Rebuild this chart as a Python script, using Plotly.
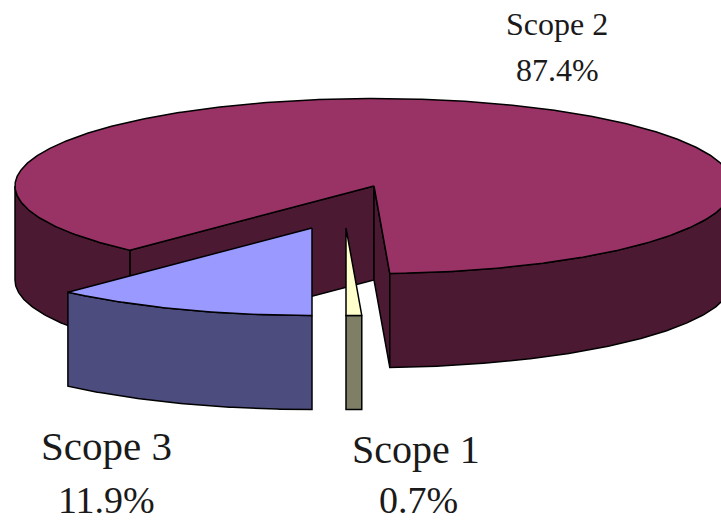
import numpy as np
import plotly.graph_objects as go

# Share of emissions by scope, in percent, in clockwise order around the pie
scopes = ["Scope 3", "Scope 2", "Scope 1"]
shares = [11.9, 87.4, 0.7]

# Drawing style per scope: top face, side face
top_colors = {"Scope 1": "#FFFFCC", "Scope 2": "#993366", "Scope 3": "#9999FF"}
side_colors = {"Scope 1": "#7F7F66", "Scope 2": "#4C1933", "Scope 3": "#4C4C7F"}

# Apex of each slice on the canvas (the pie is pulled apart)
apex = {"Scope 1": (346, 228), "Scope 2": (374, 186), "Scope 3": (312, 228)}

# Labels: (x, y of name), name size, (x, y of percentage), percentage size
label_pos = {
    "Scope 1": ((416, 449), 40, (418, 500), 38),
    "Scope 2": ((557, 24), 32, (557, 70), 32),
    "Scope 3": ((106, 446), 41, (106, 500), 38),
}

WIDTH, HEIGHT = 721, 522
RX, RY, DEPTH = 359, 87.5, 94
START_DEG = 90.0


def rim(center, deg):
    """Points on the tilted rim of the pie for angles given in degrees."""
    t = np.radians(deg)
    return center[0] + RX * np.cos(t), center[1] + RY * np.sin(t)


def arc_angles(a, b):
    return np.linspace(a, b, max(int(abs(b - a) * 2), 2))


def polygon(xs, ys, color, name):
    return go.Scatter(
        x=np.append(xs, xs[0]),
        y=np.append(ys, ys[0]),
        mode="lines",
        fill="toself",
        fillcolor=color,
        line=dict(color="#000000", width=1.5),
        hoverinfo="skip",
        name=name,
        showlegend=False,
    )


# Angular extent of every slice, derived from the shares
spans = {}
angle = START_DEG
for scope, share in zip(scopes, shares):
    spans[scope] = (angle, angle + share * 3.6)
    angle += share * 3.6


def slice_traces(scope):
    a, b = spans[scope]
    c = apex[scope]
    traces = []

    # Cut faces that turn towards the viewer
    for edge, normal in ((a, a - 90), (b, b + 90)):
        if np.sin(np.radians(normal)) > 1e-6:
            rx_pt, ry_pt = rim(c, edge)
            xs = np.array([c[0], rx_pt, rx_pt, c[0]])
            ys = np.array([c[1], ry_pt, ry_pt + DEPTH, c[1] + DEPTH])
            traces.append(polygon(xs, ys, side_colors[scope], scope))

    # Outer wall: only the part of the rim on the near half of the ellipse
    for k in range(0, 3):
        lo, hi = max(a, 360 * k), min(b, 360 * k + 180)
        if hi > lo:
            xs, ys = rim(c, arc_angles(lo, hi))
            traces.append(
                polygon(
                    np.concatenate([xs, xs[::-1]]),
                    np.concatenate([ys, ys[::-1] + DEPTH]),
                    side_colors[scope],
                    scope,
                )
            )

    # Top face
    xs, ys = rim(c, arc_angles(a, b))
    traces.append(
        polygon(np.concatenate([[c[0]], xs]), np.concatenate([[c[1]], ys]), top_colors[scope], scope)
    )
    return traces


fig = go.Figure()
for scope in ("Scope 2", "Scope 3", "Scope 1"):
    fig.add_traces(slice_traces(scope))

for scope, share in zip(scopes, shares):
    name_xy, name_size, value_xy, value_size = label_pos[scope]
    for (x, y), text, size in ((name_xy, scope, name_size), (value_xy, f"{share}%", value_size)):
        fig.add_annotation(
            x=x, y=y, text=text, showarrow=False,
            xanchor="center", yanchor="middle",
            font=dict(family="Liberation Serif", size=size, color="#1a1a1a"),
        )

fig.update_layout(
    width=WIDTH,
    height=HEIGHT,
    margin=dict(l=0, r=0, t=0, b=0),
    paper_bgcolor="white",
    plot_bgcolor="white",
    showlegend=False,
    xaxis=dict(range=[0, WIDTH], visible=False, fixedrange=True),
    yaxis=dict(range=[HEIGHT, 0], visible=False, fixedrange=True),
)

fig.write_html("out.html", config={"displayModeBar": False})
